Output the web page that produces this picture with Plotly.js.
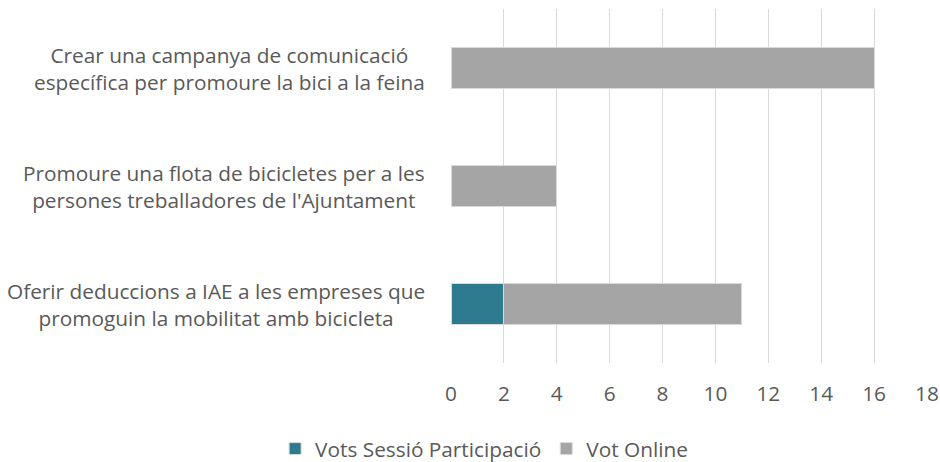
<!DOCTYPE html>
<html>
<head>
<meta charset="utf-8">
<script src="https://cdn.plot.ly/plotly-3.0.1.min.js"></script>
<style>html,body{margin:0;padding:0;background:#fff;}#chart{width:940px;height:462px;}</style>
</head>
<body>
<div id="chart"></div>
<script>
const categories = [
  "Oferir deduccions a IAE a les empreses que<br>promoguin la mobilitat amb bicicleta",
  "Promoure una flota de bicicletes per a les<br>persones treballadores de l'Ajuntament",
  "Crear una campanya de comunicació<br>específica per promoure la bici a la feina"
];
const votsSessio = [2, 0, 0];
const votOnline = [9, 4, 16];
const seriesNames = ["Vots Sessió Participació", "Vot Online"];
const xTicks = [0, 2, 4, 6, 8, 10, 12, 14, 16, 18];

const font = {family: "'Open Sans', sans-serif", size: 20.8, color: "#595959"};

const traces = [
  {type: "bar", orientation: "h", name: seriesNames[0], y: categories, x: votsSessio,
   marker: {color: "#2E7A8E", line: {color: "#D9D9D9", width: 1}}, hoverinfo: "x"},
  {type: "bar", orientation: "h", name: seriesNames[1], y: categories, x: votOnline,
   marker: {color: "#A5A5A5", line: {color: "#D9D9D9", width: 1}}, hoverinfo: "x"}
];

const annotations = categories.map(c => ({
  xref: "paper", yref: "y", x: -0.05, y: c, xanchor: "right", yanchor: "middle",
  align: "center", text: c, showarrow: false, font: font
}));

const layout = {
  width: 940, height: 462,
  margin: {l: 451, r: 13, t: 9, b: 99},
  barmode: "stack", bargap: 0.646,
  paper_bgcolor: "#fff", plot_bgcolor: "#fff",
  font: font,
  xaxis: {range: [0, 18], tickvals: xTicks, ticktext: xTicks.map(String),
          showgrid: true, gridcolor: "#D9D9D9", gridwidth: 1, zeroline: false,
          showline: false, ticks: "outside", ticklen: 12, tickcolor: "rgba(0,0,0,0)",
          tickfont: font, fixedrange: true},
  yaxis: {categoryorder: "array", categoryarray: categories, showticklabels: false,
          showgrid: false, zeroline: false, showline: false, fixedrange: true},
  showlegend: true,
  legend: {orientation: "h", xref: "container", yref: "container", x: 0.515, y: 0.028,
           xanchor: "center", yanchor: "middle", font: font, traceorder: "normal",
           itemwidth: 30},
  annotations: annotations
};

Plotly.newPlot("chart", traces, layout, {displayModeBar: false, staticPlot: true});
</script>
</body>
</html>
